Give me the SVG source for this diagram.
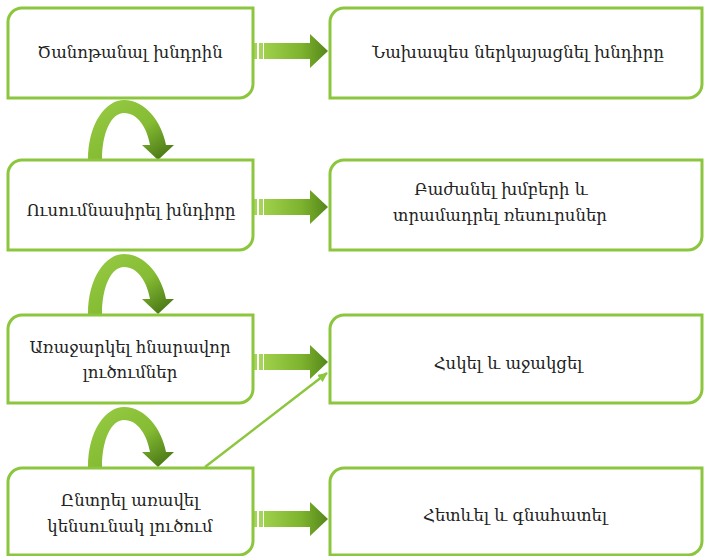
<svg xmlns="http://www.w3.org/2000/svg" xmlns:xlink="http://www.w3.org/1999/xlink" width="704" height="556" viewBox="0 0 704 556">
<style>
.box{fill:#fff;stroke:#8cc63e;stroke-width:3}
.t{font-family:"DejaVu Serif","Liberation Serif",serif;font-size:16.5px;fill:#222;text-anchor:middle}
.strip{fill:#a6d45a}
.harr{fill:url(#hg)}
.carr{fill:url(#cg)}
.thin{stroke:#8cc63e;stroke-width:2.5;fill:none;marker-end:url(#ah)}
</style>
<defs>
<linearGradient id="hg" x1="0" y1="0" x2="1" y2="0">
<stop offset="0" stop-color="#9fd04c"/>
<stop offset="0.6" stop-color="#7cb22d"/>
<stop offset="1" stop-color="#54861a"/>
</linearGradient>
<linearGradient id="cg" x1="0" y1="0" x2="1" y2="1">
<stop offset="0" stop-color="#98cc45"/>
<stop offset="0.55" stop-color="#85bc33"/>
<stop offset="1" stop-color="#3e6a10"/>
</linearGradient>
<marker id="ah" viewBox="0 0 10 10" refX="9" refY="5" markerWidth="4" markerHeight="4" orient="auto">
<path d="M0,0.5 L10,5 L0,9.5 Z" fill="#8cc63e"/>
</marker>
<path id="curve" d="M88,0 C88,-37 106,-60 124,-60 C146,-60 162,-37 166,-15 L174,-15 L158,0 L142,-15 L150,-15 C147,-32 138,-47 124,-47 C111,-47 102,-27 102,0 Z"/>
<g id="harrow">
<rect class="strip" x="254" y="-8" width="3" height="16"/>
<rect class="strip" x="259" y="-8" width="4" height="16"/>
<path class="harr" d="M264,-8 H310 V-17 L328,0 L310,17 V8 H264 Z"/>
</g>
</defs>

<g id="connectors">
<use xlink:href="#harrow" transform="translate(0,51)"/>
<use xlink:href="#harrow" transform="translate(0,207)"/>
<use xlink:href="#harrow" transform="translate(0,362)"/>
<use xlink:href="#harrow" transform="translate(0,519)"/>
<use xlink:href="#curve" class="carr" transform="translate(0,160)"/>
<use xlink:href="#curve" class="carr" transform="translate(0,314)"/>
<use xlink:href="#curve" class="carr" transform="translate(0,467)"/>
<line class="thin" x1="205" y1="467" x2="327" y2="373"/>
</g>

<g id="n1">
<path class="box" d="M22,8 H253 V84 A14,14 0 0 1 239,98 H8 V22 A14,14 0 0 1 22,8 Z"/>
<text class="t" x="130" y="58">Ծանոթանալ խնդրին</text>
</g>
<g id="n2">
<path class="box" d="M344,8 H702 V84 A14,14 0 0 1 688,98 H330 V22 A14,14 0 0 1 344,8 Z"/>
<text class="t" x="518" y="58">Նախապես ներկայացնել խնդիրը</text>
</g>
<g id="n3">
<path class="box" d="M22,160 H253 V236 A14,14 0 0 1 239,250 H8 V174 A14,14 0 0 1 22,160 Z"/>
<text class="t" x="131" y="216">Ուսումնասիրել խնդիրը</text>
</g>
<g id="n4">
<path class="box" d="M344,160 H702 V236 A14,14 0 0 1 688,250 H330 V174 A14,14 0 0 1 344,160 Z"/>
<text class="t" x="501" y="195">Բաժանել խմբերի և</text>
<text class="t" x="500" y="221">տրամադրել ռեսուրսներ</text>
</g>
<g id="n5">
<path class="box" d="M22,315 H253 V389 A14,14 0 0 1 239,403 H8 V329 A14,14 0 0 1 22,315 Z"/>
<text class="t" x="130" y="353">Առաջարկել հնարավոր</text>
<text class="t" x="130" y="378">լուծումներ</text>
</g>
<g id="n6">
<path class="box" d="M344,315 H702 V389 A14,14 0 0 1 688,403 H330 V329 A14,14 0 0 1 344,315 Z"/>
<text class="t" x="508" y="369">Հսկել և աջակցել</text>
</g>
<g id="n7">
<path class="box" d="M22,468 H253 V541 A14,14 0 0 1 239,555 H8 V482 A14,14 0 0 1 22,468 Z"/>
<text class="t" x="130" y="506">Ընտրել առավել</text>
<text class="t" x="130" y="532">կենսունակ լուծում</text>
</g>
<g id="n8">
<path class="box" d="M344,468 H702 V541 A14,14 0 0 1 688,555 H330 V482 A14,14 0 0 1 344,468 Z"/>
<text class="t" x="515" y="521">Հետևել և գնահատել</text>
</g>
</svg>
